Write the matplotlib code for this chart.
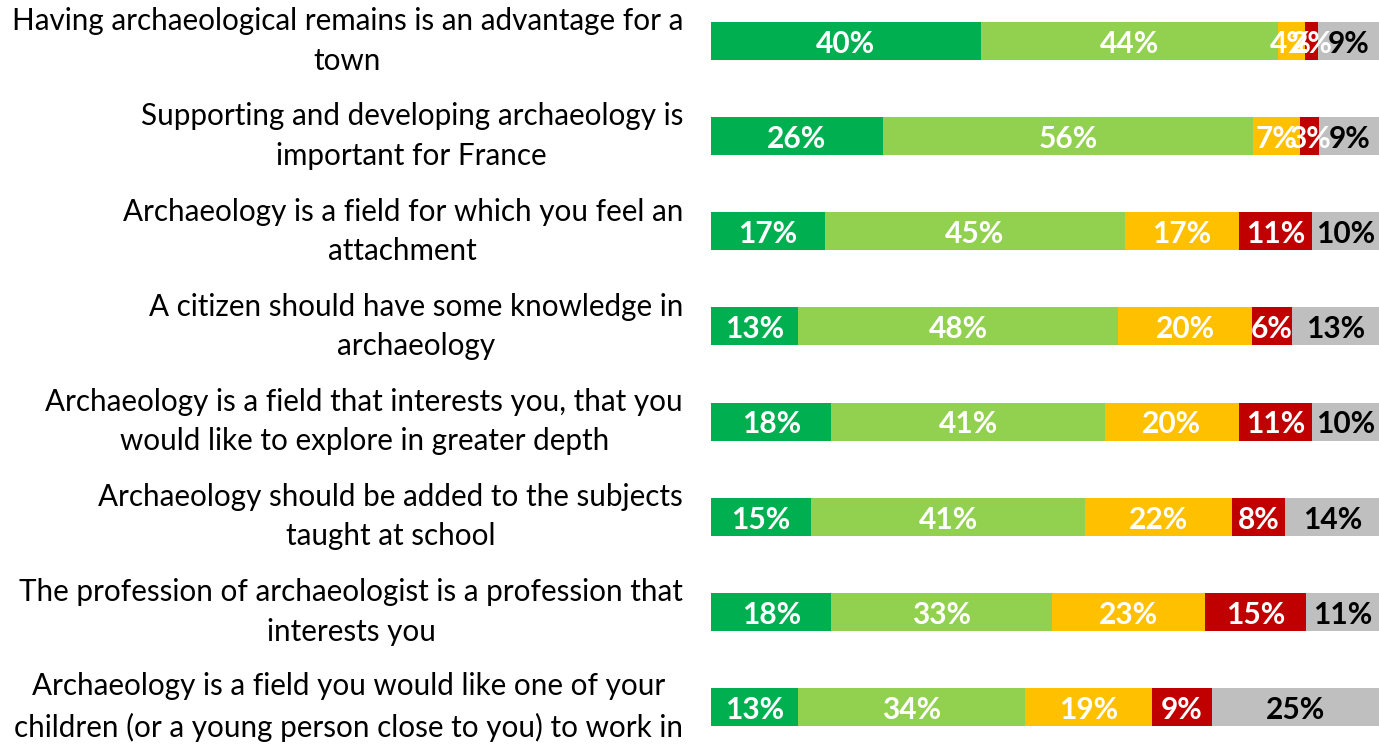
import matplotlib
matplotlib.use("Agg")
import matplotlib.pyplot as plt

categories = [
    "Having archaeological remains is an advantage for a\ntown",
    "Supporting and developing archaeology is\nimportant for France",
    "Archaeology is a field for which you feel an\nattachment",
    "A citizen should have some knowledge in\narchaeology",
    "Archaeology is a field that interests you, that you\nwould like to explore in greater depth",
    "Archaeology should be added to the subjects\ntaught at school",
    "The profession of archaeologist is a profession that\ninterests you",
    "Archaeology is a field you would like one of your\nchildren (or a young person close to you) to work in",
]
s1 = [40, 26, 17, 13, 18, 15, 18, 13]
s2 = [44, 56, 45, 48, 41, 41, 33, 34]
s3 = [4, 7, 17, 20, 20, 22, 23, 19]
s4 = [2, 3, 11, 6, 11, 8, 15, 9]
s5 = [9, 9, 10, 13, 10, 14, 11, 25]

series = [s1, s2, s3, s4, s5]
colors = ["#00B050", "#92D050", "#FFC000", "#C00000", "#BFBFBF"]
txtcolors = ["white", "white", "white", "white", "black"]

W, H = 1379, 745
fig = plt.figure(figsize=(W / 100, H / 100), dpi=100)
ax = fig.add_axes([711 / W, 0, (1379 - 711) / W, 1])
ax.set_xlim(0, 100)
ax.set_ylim(7.40, -0.431)
ax.axis("off")

n = len(categories)
ypos = list(range(n))
totals = [sum(s[i] for s in series) for i in range(n)]
left = [0.0] * n
for vals, c, tc in zip(series, colors, txtcolors):
    widths = [100.0 * v / t for v, t in zip(vals, totals)]
    ax.barh(ypos, widths, left=left, height=0.40, color=c, edgecolor="none")
    for i, v in enumerate(vals):
        ax.text(left[i] + widths[i] / 2, ypos[i] + 0.03, f"{v}%", ha="center", va="center",
                color=tc, fontsize=21.5, fontweight="bold", family="Lato", clip_on=False)
    left = [l + w for l, w in zip(left, widths)]

for i, cat in enumerate(categories):
    ax.text(-(711 - 683) / 6.68, ypos[i], cat, ha="right", va="center", fontsize=21.3,
            family="Lato", color="black", multialignment="center", linespacing=1.5)

fig.savefig("out.png", dpi=100)
